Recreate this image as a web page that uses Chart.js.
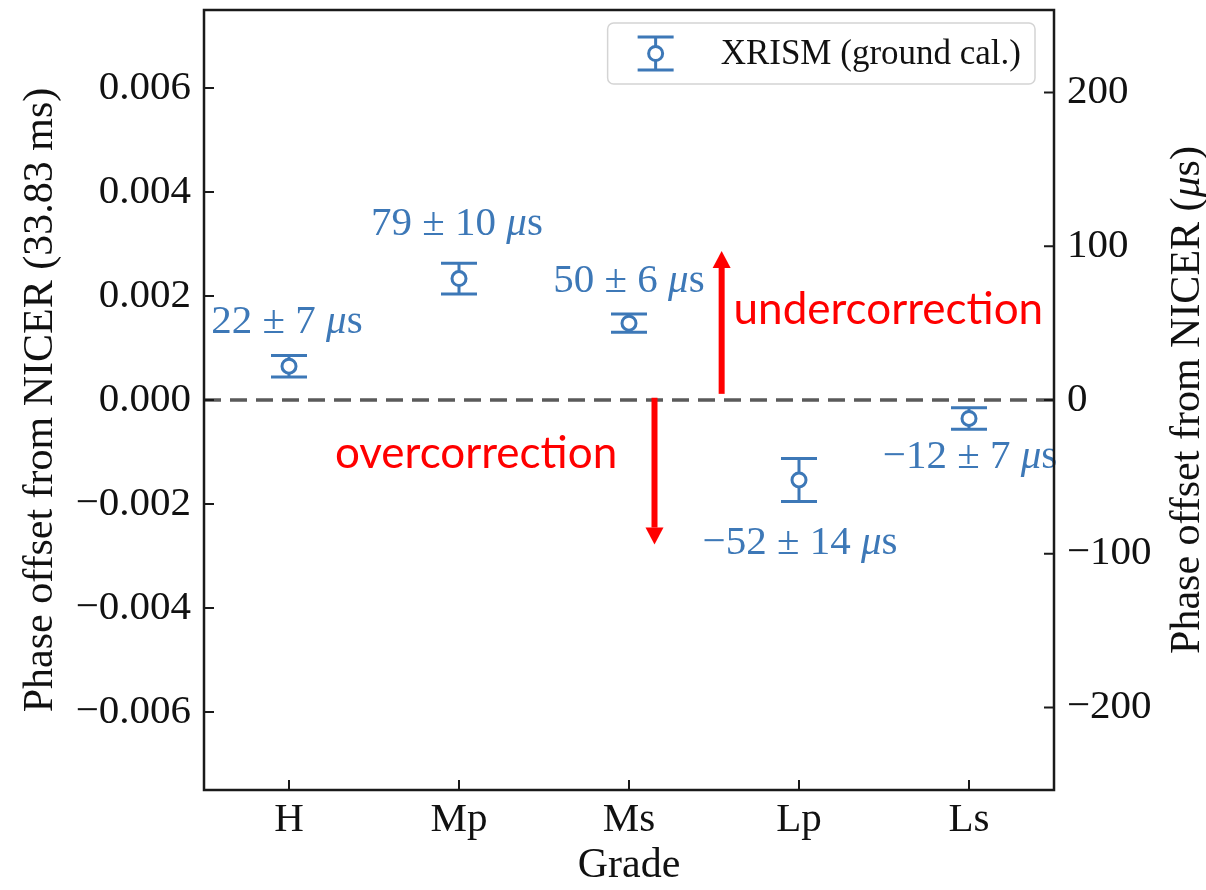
<!DOCTYPE html>
<html>
<head>
<meta charset="utf-8">
<script src="https://cdn.jsdelivr.net/npm/chart.js@4.4.1/dist/chart.umd.min.js"></script>
<style>
  html, body { margin: 0; padding: 0; background: #ffffff; }
  #wrap { width: 1206px; height: 890px; }
</style>
</head>
<body>
<div id="wrap"><canvas id="chart" width="1206" height="890"></canvas></div>
<script>
// Timing offset of each event grade relative to NICER (microseconds)
const GRADES = ['H', 'Mp', 'Ms', 'Lp', 'Ls'];
const OFFSET_US = [22, 79, 50, -52, -12];
const ERROR_US = [7, 10, 6, 14, 7];
const PERIOD_US = 33830;            // pulse period 33.83 ms
const PHASE_LIMIT = 0.0075;
const PHASE_TICKS = [-0.006, -0.004, -0.002, 0, 0.002, 0.004, 0.006];
const US_TICKS = [-200, -100, 0, 100, 200];
const SERIES_LABEL = 'XRISM (ground cal.)';

// Annotation arrows and captions, in axis units (grade index, microseconds)
const ARROWS = [
  { x: 2.545, from: 4, to: 97 },
  { x: 2.150, from: 1.5, to: -94 }
];
const CAPTIONS = [
  { text: 'undercorrection', x: 2.615, y: 49.5 },
  { text: 'overcorrection', x: 0.270, y: -44.5 }
];

// Pixel nudges for the value labels (dx, baseline dy from the point)
const LABEL_NUDGE = [[-2, -33], [-2, -44], [0, -31], [1, 74], [1, 50]];

const BLUE = '#3d78b7';
const RED = '#ff0000';
const SERIF = '"Liberation Serif", "DejaVu Serif", serif';
const SANS = 'Lato, "Liberation Sans", sans-serif';
const minus = s => String(s).replace('-', '\u2212');

function drawPieces(ctx, pieces, x, y, align) {
  // pieces: [{text, font}] drawn one after the other on a common baseline
  let total = 0;
  pieces.forEach(p => { ctx.font = p.font; p.w = ctx.measureText(p.text).width; total += p.w; });
  let cx = align === 'center' ? x - total / 2 : x;
  ctx.textAlign = 'left';
  pieces.forEach(p => { ctx.font = p.font; ctx.fillText(p.text, cx, y); cx += p.w; });
}

const decorations = {
  id: 'decorations',
  beforeDatasetsDraw(chart) {
    const { ctx, chartArea: ca, scales } = chart;
    const xs = scales.x, ys = scales.yUs;
    ctx.save();
    // zero reference
    const y0 = ys.getPixelForValue(0);
    ctx.strokeStyle = '#5a5a5a';
    ctx.lineWidth = 3.5;
    ctx.setLineDash([17, 9]);
    ctx.beginPath();
    ctx.moveTo(ca.left, y0);
    ctx.lineTo(ca.right, y0);
    ctx.stroke();
    ctx.setLineDash([]);
    // error bars with caps
    ctx.strokeStyle = BLUE;
    ctx.lineWidth = 3;
    GRADES.forEach((g, i) => {
      const px = xs.getPixelForValue(i);
      const yt = ys.getPixelForValue(OFFSET_US[i] + ERROR_US[i]);
      const yb = ys.getPixelForValue(OFFSET_US[i] - ERROR_US[i]);
      ctx.beginPath();
      ctx.moveTo(px, yt); ctx.lineTo(px, yb);
      ctx.moveTo(px - 18, yt); ctx.lineTo(px + 18, yt);
      ctx.moveTo(px - 18, yb); ctx.lineTo(px + 18, yb);
      ctx.stroke();
    });
    ctx.restore();
  },
  afterDatasetsDraw(chart) {
    const { ctx, chartArea: ca, scales } = chart;
    const xs = scales.x, ys = scales.yUs, yp = scales.yPhase;
    ctx.save();

    // value labels
    ctx.fillStyle = BLUE;
    ctx.textBaseline = 'alphabetic';
    GRADES.forEach((g, i) => {
      const px = xs.getPixelForValue(i) + LABEL_NUDGE[i][0];
      const py = ys.getPixelForValue(OFFSET_US[i]) + LABEL_NUDGE[i][1];
      drawPieces(ctx, [
        { text: minus(OFFSET_US[i]) + ' \u00b1 ' + ERROR_US[i] + ' ', font: `41px ${SERIF}` },
        { text: '\u03bc', font: `italic 41px ${SERIF}` },
        { text: 's', font: `41px ${SERIF}` }
      ], px, py, 'center');
    });

    // red arrows
    ctx.fillStyle = RED;
    ctx.strokeStyle = RED;
    ARROWS.forEach(a => {
      const ax = xs.getPixelForValue(a.x);
      const y1 = ys.getPixelForValue(a.from);
      const y2 = ys.getPixelForValue(a.to);
      const dir = y2 < y1 ? -1 : 1;
      const head = 17;
      ctx.lineWidth = 6;
      ctx.beginPath();
      ctx.moveTo(ax, y1);
      ctx.lineTo(ax, y2 - dir * head);
      ctx.stroke();
      ctx.beginPath();
      ctx.moveTo(ax, y2);
      ctx.lineTo(ax - 9, y2 - dir * head);
      ctx.lineTo(ax + 9, y2 - dir * head);
      ctx.closePath();
      ctx.fill();
    });
    ctx.font = `44px ${SANS}`;
    ctx.textAlign = 'left';
    CAPTIONS.forEach(c => {
      ctx.fillText(c.text, xs.getPixelForValue(c.x), ys.getPixelForValue(c.y));
    });

    // frame and inward ticks
    ctx.strokeStyle = '#1a1a1a';
    ctx.lineWidth = 2.5;
    ctx.strokeRect(ca.left, ca.top, ca.right - ca.left, ca.bottom - ca.top);
    ctx.lineWidth = 2;
    ctx.beginPath();
    yp.ticks.forEach(t => {
      const y = yp.getPixelForValue(t.value);
      ctx.moveTo(ca.left, y); ctx.lineTo(ca.left + 10, y);
    });
    ys.ticks.forEach(t => {
      const y = ys.getPixelForValue(t.value);
      ctx.moveTo(ca.right, y); ctx.lineTo(ca.right - 10, y);
    });
    GRADES.forEach((g, i) => {
      const x = xs.getPixelForValue(i);
      ctx.moveTo(x, ca.bottom); ctx.lineTo(x, ca.bottom - 10);
    });
    ctx.stroke();

    // right-hand axis title, reading bottom to top
    ctx.save();
    ctx.translate(1188, (ca.top + ca.bottom) / 2);
    ctx.rotate(-Math.PI / 2);
    ctx.fillStyle = '#111';
    ctx.textBaseline = 'middle';
    drawPieces(ctx, [
      { text: 'Phase offset from NICER (', font: `42px ${SERIF}` },
      { text: '\u03bc', font: `italic 42px ${SERIF}` },
      { text: 's)', font: `42px ${SERIF}` }
    ], 0, 0, 'center');
    ctx.restore();

    // legend with error-bar handle
    ctx.font = `35px ${SERIF}`;
    const label = chart.data.datasets[0].label;
    const tw = ctx.measureText(label).width;
    const bh = 61, bw = 113 + tw + 14;
    const bx = ca.right - 19 - bw, by = ca.top + 13;
    ctx.beginPath();
    ctx.roundRect(bx, by, bw, bh, 6);
    ctx.fillStyle = 'rgba(255,255,255,0.85)';
    ctx.fill();
    ctx.strokeStyle = '#d4d4d4';
    ctx.lineWidth = 1.5;
    ctx.stroke();
    const mx = bx + 48, my = by + bh / 2;
    ctx.strokeStyle = BLUE;
    ctx.lineWidth = 3;
    ctx.beginPath();
    ctx.moveTo(mx, my - 16.5); ctx.lineTo(mx, my + 16.5);
    ctx.moveTo(mx - 18, my - 16.5); ctx.lineTo(mx + 18, my - 16.5);
    ctx.moveTo(mx - 18, my + 16.5); ctx.lineTo(mx + 18, my + 16.5);
    ctx.stroke();
    ctx.beginPath();
    ctx.arc(mx, my, 7, 0, Math.PI * 2);
    ctx.fillStyle = '#fff';
    ctx.fill();
    ctx.stroke();
    ctx.fillStyle = '#111';
    ctx.textBaseline = 'middle';
    ctx.textAlign = 'left';
    ctx.fillText(label, bx + 113, my + 1);

    ctx.restore();
  }
};

const usLimit = PHASE_LIMIT * PERIOD_US;

// fixed axis box sizes; drop the label overhang padding Chart.js reserves
const fixY = w => s => { s.width = w; s.paddingTop = 0; s.paddingBottom = 0; };

new Chart(document.getElementById('chart'), {
  type: 'line',
  data: {
    labels: GRADES,
    datasets: [{
      label: SERIES_LABEL,
      data: OFFSET_US,
      yAxisID: 'yUs',
      showLine: false,
      pointRadius: 7,
      pointBorderWidth: 3,
      pointBorderColor: BLUE,
      pointBackgroundColor: '#ffffff'
    }]
  },
  options: {
    responsive: false,
    animation: false,
    events: [],
    layout: { padding: { top: 8, left: 0, right: 0, bottom: 0 } },
    plugins: { legend: { display: false }, tooltip: { enabled: false } },
    scales: {
      x: {
        type: 'category',
        offset: true,
        grid: { display: false, drawTicks: false },
        border: { display: false },
        ticks: {
          color: '#111', autoSkip: false, maxRotation: 0, padding: 6,
          font: { family: SERIF, size: 41 }
        },
        title: {
          display: true, text: 'Grade', color: '#111',
          font: { family: SERIF, size: 42, lineHeight: 1 },
          padding: { top: 0, bottom: 3 }
        },
        afterFit: s => { s.height = 100; s.paddingLeft = 0; s.paddingRight = 0; }
      },
      yPhase: {
        type: 'linear',
        position: 'left',
        min: -PHASE_LIMIT,
        max: PHASE_LIMIT,
        grid: { display: false, drawTicks: false },
        border: { display: false },
        afterBuildTicks: s => { s.ticks = PHASE_TICKS.map(v => ({ value: v })); },
        ticks: {
          color: '#111', padding: 13,
          font: { family: SERIF, size: 41 },
          callback: v => minus(v.toFixed(3))
        },
        title: {
          display: true, text: 'Phase offset from NICER (33.83 ms)', color: '#111',
          font: { family: SERIF, size: 42, lineHeight: 1 },
          padding: { top: 20, bottom: 0 }
        },
        afterFit: fixY(204)
      },
      yUs: {
        type: 'linear',
        position: 'right',
        min: -usLimit,
        max: usLimit,
        grid: { display: false, drawTicks: false },
        border: { display: false },
        afterBuildTicks: s => { s.ticks = US_TICKS.map(v => ({ value: v })); },
        ticks: {
          color: '#111', padding: 13,
          font: { family: SERIF, size: 41 },
          callback: v => minus(v)
        },
        afterFit: fixY(152)
      }
    }
  },
  plugins: [decorations]
});
</script>
</body>
</html>
